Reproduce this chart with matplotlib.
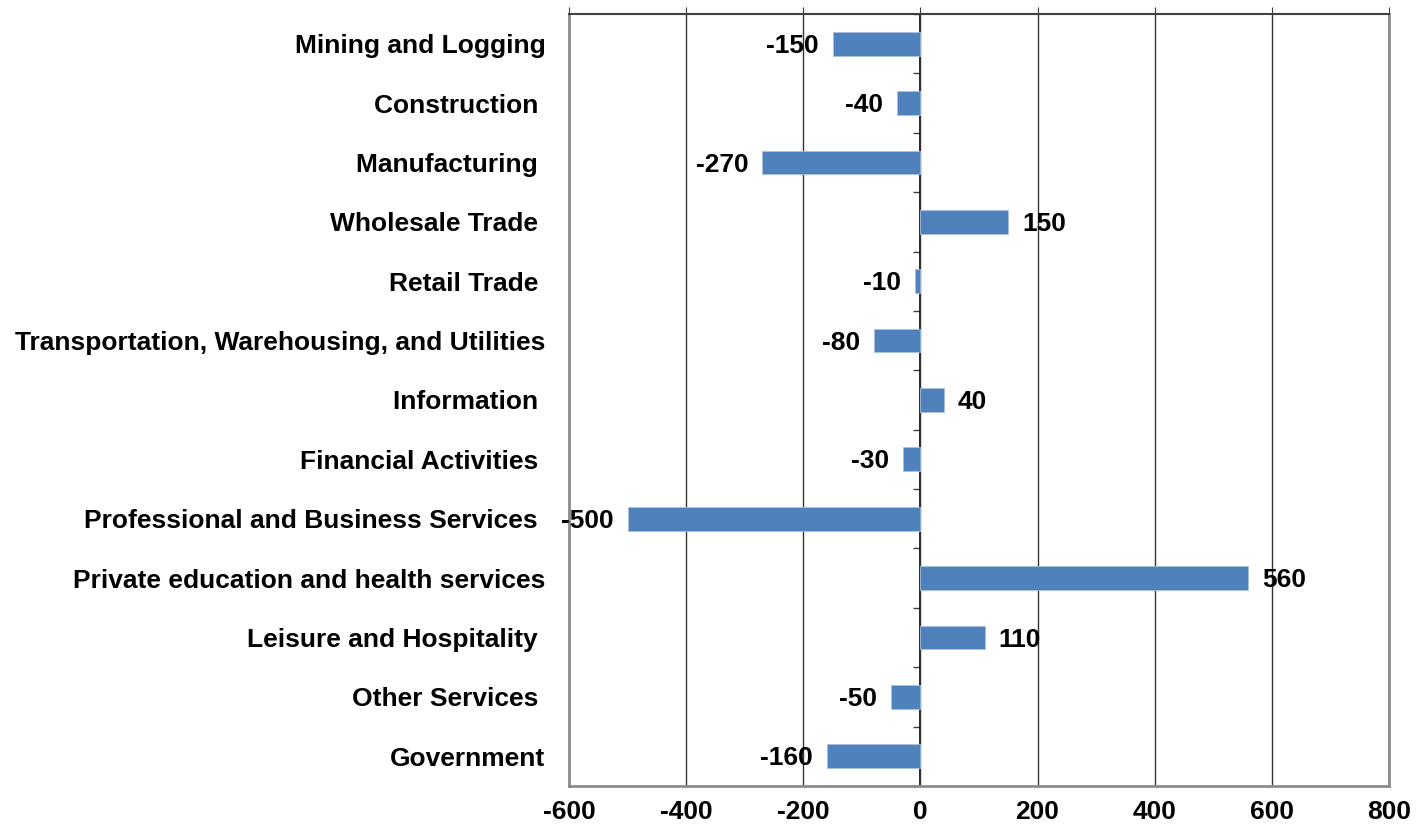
import matplotlib.pyplot as plt

plt.rcParams['font.family'] = ['Liberation Sans', 'DejaVu Sans']

categories = ['Mining and Logging', 'Construction ', 'Manufacturing ', 'Wholesale Trade ',
              'Retail Trade ', 'Transportation, Warehousing, and Utilities', 'Information ',
              'Financial Activities ', 'Professional and Business Services ',
              'Private education and health services', 'Leisure and Hospitality ',
              'Other Services ', 'Government']
values = [-150, -40, -270, 150, -10, -80, 40, -30, -500, 560, 110, -50, -160]
x_ticks = [-600, -400, -200, 0, 200, 400, 600, 800]

fig = plt.figure(figsize=(14.19, 8.32), dpi=100)
ax = fig.add_axes([0.401, 0.0553, 0.5778, 0.9279])

pos = list(range(len(categories)))
ax.barh(pos, values, height=0.4, color='#4F81BD', edgecolor='#A9C0DE', linewidth=0.6, zorder=3)

for y, v in zip(pos, values):
    if v < 0:
        ax.annotate(str(v), (v, y), xytext=(-10, -1.5), textcoords='offset points',
                    ha='right', va='center', fontsize=19, fontweight='bold', zorder=4)
    else:
        ax.annotate(str(v), (v, y), xytext=(10, -1.5), textcoords='offset points',
                    ha='left', va='center', fontsize=19, fontweight='bold', zorder=4)

ax.set_xlim(x_ticks[0], x_ticks[-1])
ax.set_ylim(len(categories) - 0.5, -0.5)
ax.set_xticks(x_ticks)
ax.set_xticklabels([str(t) for t in x_ticks], fontsize=19, fontweight='bold')
ax.set_yticks(pos)
ax.set_yticklabels(categories, fontsize=19, fontweight='bold')
ax.tick_params(axis='y', length=0, pad=17)
ax.tick_params(axis='x', top=True, bottom=False, labeltop=False, labelbottom=True,
               direction='out', length=5, color='#404040', pad=5)
ax.grid(axis='x', color='#333333', linewidth=1, zorder=0)

for s in ['left', 'right', 'bottom']:
    ax.spines[s].set_color('#8c8c8c')
    ax.spines[s].set_linewidth(2)
ax.spines['top'].set_color('#404040')
ax.spines['top'].set_linewidth(1.5)

# category axis crossing at zero
zero_loc = (0 - x_ticks[0]) / (x_ticks[-1] - x_ticks[0])
sec = ax.secondary_yaxis(zero_loc)
sec.set_yticks([p - 0.5 for p in pos] + [len(categories) - 0.5])
sec.set_yticklabels([])
sec.tick_params(axis='y', direction='out', length=5, width=1, color='#404040')
sec.spines['left'].set_color('black')
sec.spines['left'].set_linewidth(1.2)

fig.savefig('out.png', dpi=100)
